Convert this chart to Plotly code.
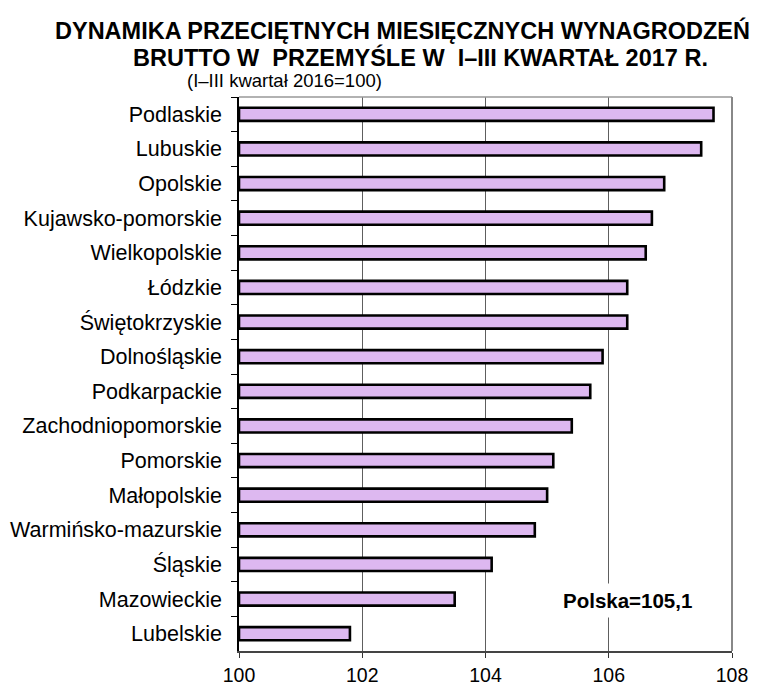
import plotly.graph_objects as go

regions = ["Podlaskie", "Lubuskie", "Opolskie", "Kujawsko-pomorskie", "Wielkopolskie",
           "Łódzkie", "Świętokrzyskie", "Dolnośląskie", "Podkarpackie", "Zachodniopomorskie",
           "Pomorskie", "Małopolskie", "Warmińsko-mazurskie", "Śląskie", "Mazowieckie", "Lubelskie"]
values = [107.7, 107.5, 106.9, 106.7, 106.6, 106.3, 106.3, 105.9, 105.7, 105.4,
          105.1, 105.0, 104.8, 104.1, 103.5, 101.8]
x_ticks = [100, 102, 104, 106, 108]
polska = "105,1"

BASE = 100

# figure geometry (page body has an 8px margin)
W, H = 755, 679
L, R, T, B = 231, 31, 89, 36
PW, PH = W - L - R, H - T - B


def px(fx):
    return (fx - L) / PW


def py(fy):
    return (H - B - fy) / PH


fig = go.Figure()
fig.add_trace(go.Bar(
    y=regions,
    x=[v - BASE for v in values],
    base=BASE,
    orientation="h",
    width=0.38,
    marker=dict(color="#DDB8F0", line=dict(color="#000000", width=2.6)),
    hoverinfo="skip",
))

sans = "Liberation Sans, Arial, sans-serif"

fig.update_layout(
    width=W, height=H,
    margin=dict(l=L, r=R, t=T, b=B, autoexpand=False),
    plot_bgcolor="white", paper_bgcolor="white",
    showlegend=False,
    xaxis=dict(
        range=[100, 108], tickvals=x_ticks, ticktext=[str(t) for t in x_ticks],
        showgrid=True, gridcolor="#5e5e5e", gridwidth=1,
        showline=True, linecolor="#444444", linewidth=1.5,
        ticks="outside", ticklen=5, tickcolor="#333333",
        tickfont=dict(family=sans, size=19.5, color="#000"),
        zeroline=False, fixedrange=True, ticklabelstandoff=1, automargin=False,
    ),
    yaxis=dict(
        type="category", categoryorder="array", categoryarray=regions,
        autorange="reversed",
        showline=True, linecolor="#000000", linewidth=1.5,
        ticks="outside", ticklen=6, tickcolor="#000", tickson="boundaries",
        tickfont=dict(family=sans, size=21.5, color="#000"),
        showgrid=False, fixedrange=True, ticklabelstandoff=11, automargin=False,
    ),
    shapes=[
        dict(type="line", xref="x domain", yref="y domain", x0=0, x1=1, y0=1, y1=1,
             line=dict(color="#999999", width=1.5)),
        dict(type="line", xref="x domain", yref="y domain", x0=1, x1=1, y0=0, y1=1,
             line=dict(color="#888888", width=2)),
    ],
    annotations=[
        dict(text="<b>DYNAMIKA PRZECIĘTNYCH MIESIĘCZNYCH WYNAGRODZEŃ</b>",
             xref="paper", yref="paper", x=px(394), y=py(22), xanchor="center", yanchor="middle",
             showarrow=False, borderpad=0, font=dict(family=sans, size=23.5, color="#000")),
        dict(text="<b>BRUTTO W  PRZEMYŚLE W  I–III KWARTAŁ 2017 R.</b>",
             xref="paper", yref="paper", x=px(412), y=py(49), xanchor="center", yanchor="middle",
             showarrow=False, borderpad=0, font=dict(family=sans, size=23.5, color="#000")),
        dict(text="(I–III kwartał 2016=100)", xref="paper", yref="paper", x=px(276), y=py(72),
             xanchor="center", yanchor="middle", showarrow=False, borderpad=0,
             font=dict(family=sans, size=18.5, color="#000")),
        dict(text="<b>Polska=" + polska + "</b>", xref="x", yref="paper", x=106.31, y=py(592),
             xanchor="center", yanchor="middle", showarrow=False, bgcolor="white",
             borderpad=5,
             font=dict(family=sans, size=20.5, color="#000")),
    ],
)

fig.write_html("out.html")
